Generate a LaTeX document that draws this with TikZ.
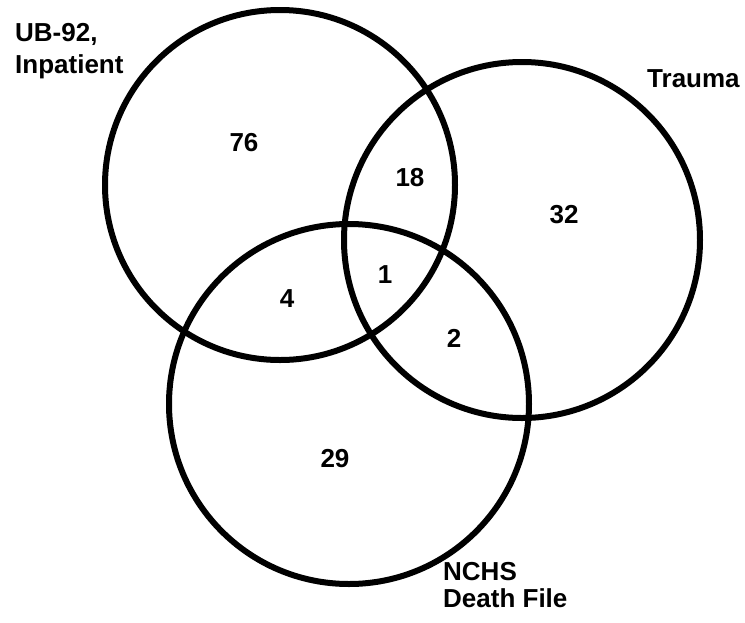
\documentclass[tikz,border=0pt]{standalone}
\usepackage{fontspec}
\setmainfont{Liberation Sans}
\begin{document}
\begin{tikzpicture}[x=1pt,y=-1pt,
  ring/.style={draw=black,line width=6pt},
  lbl/.style={inner sep=0pt,anchor=base west,font=\bfseries\fontsize{26}{30}\selectfont},
  num/.style={inner sep=0pt,anchor=center,font=\bfseries\fontsize{26}{30}\selectfont}]
\useasboundingbox (0,0) rectangle (745,622);
\draw[ring] (280,185) circle[radius=175];
\draw[ring] (522,240) circle[radius=178];
\draw[ring] (349,404) circle[radius=180];
\node[lbl] (ub1) at (15,41) {UB-92,};
\node[lbl] (ub2) at (15,73) {Inpatient};
\node[lbl] (tr) at (647,87) {Trauma};
\node[lbl] (nc1) at (443,580) {NCHS};
\node[lbl] (nc2) at (443,607) {Death File};
\node[num] (n76) at (244,143) {76};
\node[num] (n18) at (410,178) {18};
\node[num] (n32) at (564,215) {32};
\node[num] (n1) at (385,275) {1};
\node[num] (n4) at (287,299) {4};
\node[num] (n2) at (454,338) {2};
\node[num] (n29) at (335,459) {29};
\end{tikzpicture}
\end{document}
